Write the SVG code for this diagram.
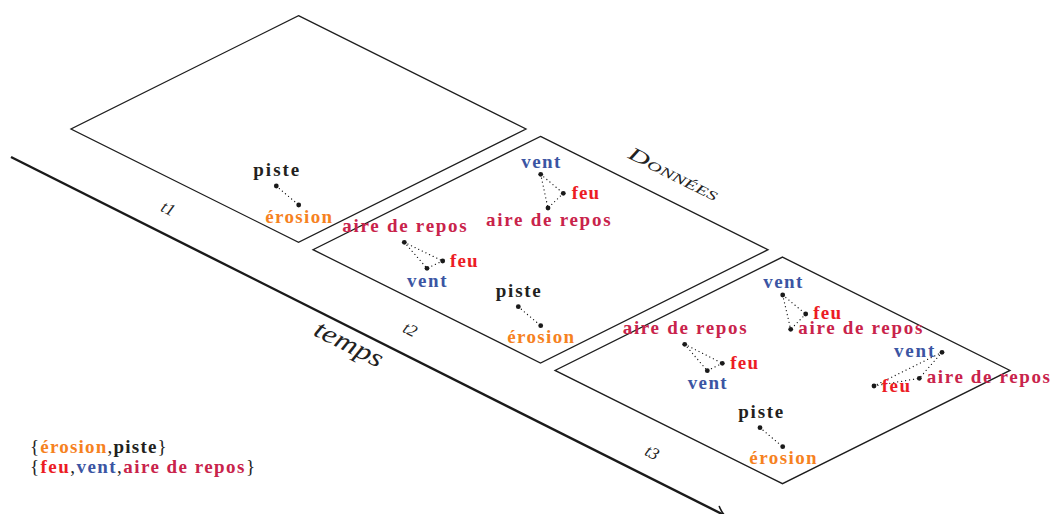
<svg xmlns="http://www.w3.org/2000/svg" width="1051" height="514" viewBox="0 0 1051 514">
<style>
.panel{fill:none;stroke:#1e1e1e;stroke-width:1.3;stroke-linejoin:miter}
.lbl{font-family:"Liberation Serif","Times New Roman",serif;font-weight:bold;font-size:19px}
.it{font-family:"Liberation Serif","Times New Roman",serif;font-style:italic;fill:#222}
.ero{fill:#f6821f}
.pis{fill:#231f20}
.feu{fill:#ec1c24}
.ven{fill:#3b55a3}
.air{fill:#c9234b}
.dot{fill:#1a1a1a}
.con{stroke:#1a1a1a;stroke-width:1.3;stroke-linecap:round;stroke-dasharray:0.01 4;fill:none}
.axis{stroke:#1a1a1a;stroke-width:2.4;fill:none}
.reg{font-weight:normal;fill:#222}
</style>
<defs>
<marker id="arr" markerUnits="userSpaceOnUse" markerWidth="20" markerHeight="20" refX="0" refY="0" viewBox="-10 -10 20 20" orient="auto" overflow="visible">
<path d="M -8 -5.5 Q -3 -1.2 0.5 0 Q -3 1.2 -8 5.5" fill="none" stroke="#1a1a1a" stroke-width="1.6" stroke-linecap="round"/>
</marker>
</defs>

<g id="axis">
<line class="axis" x1="11" y1="157" x2="724" y2="515" marker-end="url(#arr)"/>
<text class="it" font-size="26" text-anchor="middle" textLength="74" lengthAdjust="spacingAndGlyphs" transform="translate(348,346) rotate(26.57)" y="6">temps</text>
<text class="it" font-size="17" text-anchor="middle" transform="translate(168,209) rotate(26.57)" y="5">t1</text>
<text class="it" font-size="17" text-anchor="middle" transform="translate(410,330) rotate(26.57)" y="5">t2</text>
<text class="it" font-size="17" text-anchor="middle" transform="translate(652,453) rotate(26.57)" y="5">t3</text>
</g>

<g id="title">
<text class="it" font-size="19" text-anchor="middle" font-variant="small-caps" textLength="98" lengthAdjust="spacingAndGlyphs" transform="translate(673,175) rotate(26.57)" y="5">Données</text>
</g>

<g id="panel1">
<polygon class="panel" points="298.5,15.7 526,129 298.5,242.3 71,129"/>
</g>
<g id="panel2">
<polygon class="panel" points="540.5,136.4 768,249.7 540.5,363 313,249.7"/>
</g>
<g id="panel3">
<polygon class="panel" points="782.5,257.1 1010,370.4 782.5,483.7 555,370.4"/>
</g>

<g id="connectors">
<line class="con" x1="276.3" y1="186" x2="298.7" y2="205"/>
<line class="con" x1="540.7" y1="174.3" x2="563.3" y2="193.3"/>
<line class="con" x1="540.7" y1="174.3" x2="548" y2="208"/>
<line class="con" x1="563.3" y1="193.3" x2="548" y2="208"/>
<line class="con" x1="404.3" y1="242.3" x2="442.7" y2="261"/>
<line class="con" x1="404.3" y1="242.3" x2="427" y2="268.3"/>
<line class="con" x1="442.7" y1="261" x2="427" y2="268.3"/>
<line class="con" x1="518.3" y1="306.7" x2="540.7" y2="325.7"/>
<line class="con" x1="782.7" y1="295" x2="805.7" y2="314"/>
<line class="con" x1="782.7" y1="295" x2="790.7" y2="329.3"/>
<line class="con" x1="805.7" y1="314" x2="790.7" y2="329.3"/>
<line class="con" x1="684.7" y1="344.3" x2="722.3" y2="363.3"/>
<line class="con" x1="684.7" y1="344.3" x2="707.3" y2="370.7"/>
<line class="con" x1="722.3" y1="363.3" x2="707.3" y2="370.7"/>
<line class="con" x1="942" y1="352.3" x2="874" y2="386"/>
<line class="con" x1="942" y1="352.3" x2="919.3" y2="378.3"/>
<line class="con" x1="874" y1="386" x2="919.3" y2="378.3"/>
<line class="con" x1="760" y1="427.7" x2="782.7" y2="446.7"/>
</g>

<g id="p1-piste">
<text class="lbl pis" x="276.3" y="176" text-anchor="middle" textLength="46" lengthAdjust="spacing">piste</text>
<circle class="dot" cx="276.3" cy="186" r="2.4"/>
<circle class="dot" cx="298.7" cy="205" r="2.4"/>
<text class="lbl ero" x="298.7" y="222.6" text-anchor="middle" textLength="67" lengthAdjust="spacing">érosion</text>
</g>

<g id="p2-top">
<text class="lbl ven" x="540.8" y="168" text-anchor="middle" textLength="39" lengthAdjust="spacing">vent</text>
<circle class="dot" cx="540.7" cy="174.3" r="2.4"/>
<circle class="dot" cx="563.3" cy="193.3" r="2.4"/>
<text class="lbl feu" x="571.7" y="199" textLength="27.5" lengthAdjust="spacing">feu</text>
<circle class="dot" cx="548" cy="208" r="2.4"/>
<text class="lbl air" x="548.3" y="226" text-anchor="middle" textLength="124.5" lengthAdjust="spacing">aire de repos</text>
</g>

<g id="p2-left">
<text class="lbl air" x="404.5" y="231.5" text-anchor="middle" textLength="124.4" lengthAdjust="spacing">aire de repos</text>
<circle class="dot" cx="404.3" cy="242.3" r="2.4"/>
<circle class="dot" cx="442.7" cy="261" r="2.4"/>
<text class="lbl feu" x="450" y="266.7" textLength="27.7" lengthAdjust="spacing">feu</text>
<circle class="dot" cx="427" cy="268.3" r="2.4"/>
<text class="lbl ven" x="426.8" y="286.7" text-anchor="middle" textLength="39.7" lengthAdjust="spacing">vent</text>
</g>

<g id="p2-piste">
<text class="lbl pis" x="518.3" y="296.7" text-anchor="middle" textLength="45" lengthAdjust="spacing">piste</text>
<circle class="dot" cx="518.3" cy="306.7" r="2.4"/>
<circle class="dot" cx="540.7" cy="325.7" r="2.4"/>
<text class="lbl ero" x="540.7" y="343.3" text-anchor="middle" textLength="66.7" lengthAdjust="spacing">érosion</text>
</g>

<g id="p3-top">
<text class="lbl ven" x="782.8" y="288.3" text-anchor="middle" textLength="39" lengthAdjust="spacing">vent</text>
<circle class="dot" cx="782.7" cy="295" r="2.4"/>
<circle class="dot" cx="805.7" cy="314" r="2.4"/>
<text class="lbl feu" x="813.3" y="318.8" textLength="27.7" lengthAdjust="spacing">feu</text>
<circle class="dot" cx="790.7" cy="329.3" r="2.4"/>
<text class="lbl air" x="798.3" y="333.6" textLength="124" lengthAdjust="spacing">aire de repos</text>
</g>

<g id="p3-left">
<text class="lbl air" x="684.7" y="334.3" text-anchor="middle" textLength="124" lengthAdjust="spacing">aire de repos</text>
<circle class="dot" cx="684.7" cy="344.3" r="2.4"/>
<circle class="dot" cx="722.3" cy="363.3" r="2.4"/>
<text class="lbl feu" x="730.3" y="369" textLength="27.7" lengthAdjust="spacing">feu</text>
<circle class="dot" cx="707.3" cy="370.7" r="2.4"/>
<text class="lbl ven" x="707.2" y="388.7" text-anchor="middle" textLength="39" lengthAdjust="spacing">vent</text>
</g>

<g id="p3-right">
<text class="lbl ven" x="894" y="357.3" textLength="40.3" lengthAdjust="spacing">vent</text>
<circle class="dot" cx="942" cy="352.3" r="2.4"/>
<circle class="dot" cx="919.3" cy="378.3" r="2.4"/>
<text class="lbl air" x="926.7" y="382.7" textLength="123.3" lengthAdjust="spacing">aire de repos</text>
<circle class="dot" cx="874" cy="386" r="2.4"/>
<text class="lbl feu" x="881.7" y="391.7" textLength="28.3" lengthAdjust="spacing">feu</text>
</g>

<g id="p3-piste">
<text class="lbl pis" x="760.8" y="417.7" text-anchor="middle" textLength="45" lengthAdjust="spacing">piste</text>
<circle class="dot" cx="760" cy="427.7" r="2.4"/>
<circle class="dot" cx="782.7" cy="446.7" r="2.4"/>
<text class="lbl ero" x="783" y="464" text-anchor="middle" textLength="67.4" lengthAdjust="spacing">érosion</text>
</g>

<g id="legend">
<text class="lbl" x="30" y="453.3" textLength="136.7" lengthAdjust="spacing"><tspan class="reg">{</tspan><tspan class="ero">érosion</tspan><tspan class="reg">,</tspan><tspan class="pis">piste</tspan><tspan class="reg">}</tspan></text>
<text class="lbl" x="30" y="473.3" textLength="225" lengthAdjust="spacing"><tspan class="reg">{</tspan><tspan class="feu">feu</tspan><tspan class="reg">,</tspan><tspan class="ven">vent</tspan><tspan class="reg">,</tspan><tspan class="air">aire de repos</tspan><tspan class="reg">}</tspan></text>
</g>
</svg>
